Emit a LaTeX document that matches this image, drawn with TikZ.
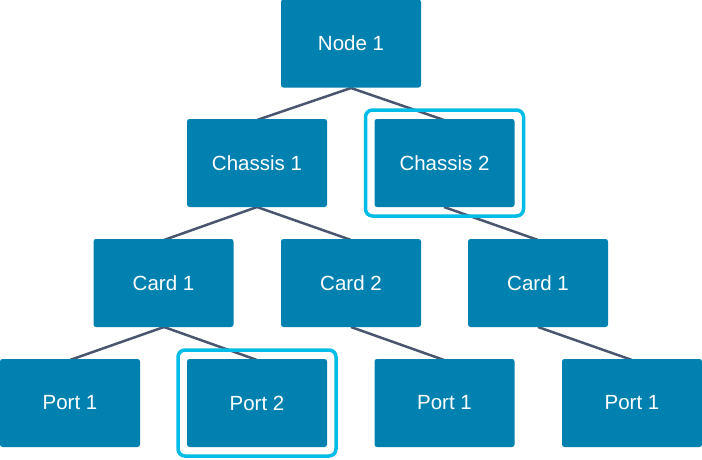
\documentclass[tikz,border=0pt]{standalone}
\usepackage{fontspec}
\setmainfont{Liberation Sans}
\definecolor{boxblue}{HTML}{0081B0}
\definecolor{hilite}{HTML}{00BCE6}
\definecolor{linkgray}{HTML}{4A5570}
\begin{document}
\begin{tikzpicture}[x=1pt,y=-1pt,
  box/.style={fill=boxblue, rounded corners=2.5pt, minimum width=140pt, minimum height=88pt,
    inner sep=0pt, text=white, font=\fontsize{20.5}{23}\selectfont},
  hl/.style={draw=hilite, line width=3.5pt, rounded corners=7pt, minimum width=158pt, minimum height=106pt, inner sep=0pt},
  link/.style={draw=linkgray, line width=2.5pt}]
\useasboundingbox (0,0) rectangle (702,459);
% connectors first (behind)
\coordinate (n1b) at (351,88);
\coordinate (c1t) at (257,120); \coordinate (c2t) at (444,120);
\coordinate (c1b) at (257,207); \coordinate (c2b) at (444,207);
\coordinate (k1t) at (164,240); \coordinate (k2t) at (351,240); \coordinate (k3t) at (538,240);
\coordinate (k1b) at (164,327); \coordinate (k2b) at (351,327); \coordinate (k3b) at (538,327);
\coordinate (p1t) at (70,360); \coordinate (p2t) at (257,360); \coordinate (p3t) at (444,360); \coordinate (p4t) at (632,360);
\draw[link] (n1b) -- (c1t);
\draw[link] (n1b) -- (c2t);
\draw[link] (c1b) -- (k1t);
\draw[link] (c1b) -- (k2t);
\draw[link] (c2b) -- (k3t);
\draw[link] (k1b) -- (p1t);
\draw[link] (k1b) -- (p2t);
\draw[link] (k2b) -- (p3t);
\draw[link] (k3b) -- (p4t);
% boxes
\node[box] (node1) at (351,43.5) {Node 1};
\node[box] (ch1) at (257,163) {Chassis 1};
\node[box] (ch2) at (444.5,163) {Chassis 2};
\node[box] (cd1) at (163.5,283) {Card 1};
\node[box] (cd2) at (351,283) {Card 2};
\node[box] (cd3) at (538,283) {Card 1};
\node[box] (pt1) at (70,403) {Port 1};
\node[box] (pt2) at (257,403) {Port 2};
\node[box] (pt3) at (444.5,403) {Port 1};
\node[box] (pt4) at (632,403) {Port 1};
% highlights
\node[hl] (h1) at (ch2) {};
\node[hl] (h2) at (pt2) {};
\end{tikzpicture}
\end{document}
